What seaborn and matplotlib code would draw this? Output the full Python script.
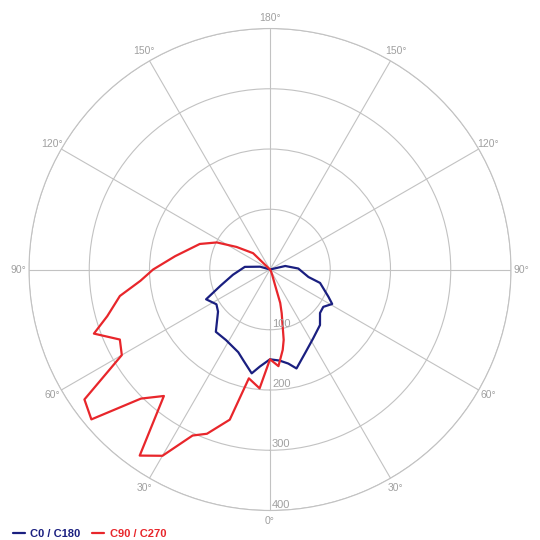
import numpy as np
import pandas as pd
import matplotlib
matplotlib.use("Agg")
import matplotlib.pyplot as plt
import matplotlib.transforms as mtransforms
from matplotlib.lines import Line2D
import seaborn as sns

# luminous intensity (cd) vs gamma angle (deg from nadir)
c0_gamma = [0, 6, 11, 15, 23, 32, 42, 49, 55, 61, 65, 75, 79, 92, 103, 180]
c0_cd = [149, 152, 159, 170, 150, 135, 124, 110, 108, 118, 107, 86, 65, 47, 26, 0]
c180_gamma = [0, 6, 10, 16, 21, 32, 41, 51, 57, 65, 72, 82, 96, 106, 180]
c180_cd = [149, 162, 175, 158, 147, 138, 137, 111, 106, 117, 86, 62, 42, 17, 0]

c90_gamma = [0, 5, 9, 11, 15, 17, 18, 22, 30, 180]
c90_cd = [149, 161, 135, 119, 75, 58, 27, 10, 3, 0]
c270_gamma = [0, 5, 11, 15, 21, 25, 30, 35, 40, 45, 50, 55, 60, 65, 70, 74,
              80, 85, 90, 98, 110, 117, 124, 134, 180]
c270_cd = [149, 198, 184, 258, 292, 304, 357, 377, 274, 303, 387, 376, 284,
           275, 311, 281, 253, 216, 194, 159, 124, 99, 67, 39, 0]

ring_values = [100, 200, 300, 400]
angle_ticks = [0, 30, 60, 90, 120, 150, 180]

planes = ["C0 / C180", "C90 / C270"]
colors = {"C0 / C180": "#1a1f80", "C90 / C270": "#e8262b"}


def half_curves(right_g, right_cd, left_g, left_cd, name):
    # right half drawn 180 -> 0, left half 0 -> 180 (negative theta)
    th = [np.deg2rad(g) for g in right_g[::-1]] + [-np.deg2rad(g) for g in left_g]
    r = list(right_cd[::-1]) + list(left_cd)
    return pd.DataFrame({"theta": th, "cd": r, "plane": name})


df = pd.concat([
    half_curves(c0_gamma, c0_cd, c180_gamma, c180_cd, planes[0]),
    half_curves(c90_gamma, c90_cd, c270_gamma, c270_cd, planes[1]),
], ignore_index=True)

sns.set_style("white")
plt.rcParams['font.family'] = ['Liberation Sans', 'DejaVu Sans']

fig = plt.figure(figsize=(5.4, 5.4), dpi=100)
ax = fig.add_axes([0.0537, 0.0546, 0.8926, 0.8926], projection="polar")
ax.set_theta_zero_location("S")
ax.set_theta_direction(1)

grid_col = "#c2c2c2"
label_col = "#a0a0a0"

for p in planes:
    sub = df[df["plane"] == p]
    sns.lineplot(data=sub, x="theta", y="cd", ax=ax, sort=False, estimator=None,
                 color=colors[p], linewidth=1.6, legend=False)

ax.set_ylim(0, 400)
ax.set_yticks(ring_values)
ax.set_yticklabels([])
ax.set_xticks(np.deg2rad(np.arange(0, 360, 30)))
ax.set_xticklabels([])
ax.grid(True, color=grid_col, linewidth=0.8)
ax.spines["polar"].set_color(grid_col)
ax.spines["polar"].set_linewidth(0.8)
ax.set_xlabel("")
ax.set_ylabel("")

# radial labels along the nadir line
off = mtransforms.offset_copy(ax.transData, fig=fig, x=2, y=3, units="dots")
for v in ring_values:
    ax.text(0, v, str(v), transform=off, ha="left", va="baseline",
            fontsize=8, color=label_col)

# angle labels on both halves
for g in angle_ticks:
    sides = [g] if g in (0, 180) else [g, -g]
    for s in sides:
        ax.text(np.deg2rad(s), 418, f"{g}°", ha="center", va="center",
                fontsize=7.5, color=label_col)

handles = [Line2D([0], [0], color=colors[p], linewidth=1.6) for p in planes]
fig.legend(handles, planes, loc="lower left", bbox_to_anchor=(0.005, -0.017),
           ncol=2, frameon=False, handlelength=1.1, handletextpad=0.5,
           columnspacing=1.0, labelcolor="linecolor",
           prop={"weight": "bold", "size": 8})

fig.savefig("out.png", dpi=100, facecolor="white")
